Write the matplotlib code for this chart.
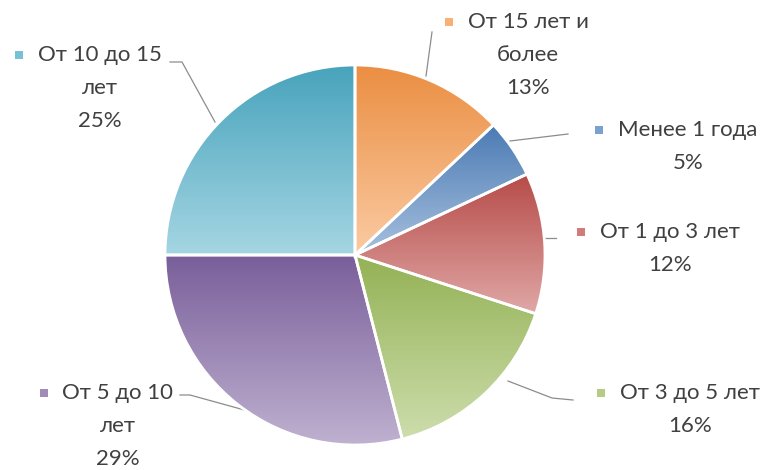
import matplotlib
matplotlib.use("Agg")
import matplotlib.pyplot as plt
import numpy as np
from matplotlib.colors import LinearSegmentedColormap, to_rgb
from matplotlib.transforms import Affine2D

labels = ["От 15 лет и\nболее", "Менее 1 года", "От 1 до 3 лет",
          "От 3 до 5 лет", "От 5 до 10\nлет", "От 10 до 15\nлет"]
values = [13, 5, 12, 16, 29, 25]
colors = ["#F79646", "#4F81BD", "#C0504D", "#9BBB59", "#8064A2", "#4BACC6"]

# label anchor (text center x, top line y) and leader line, in pixel coords
lab_pos = [(528, 22), (688, 130), (670, 232), (690, 393), (118, 393), (100, 55)]
leaders = [[(432, 32), (426, 76)],
           [(568, 134), (510, 141)],
           [(556, 238), (545, 238)],
           [(573, 400), (552, 398), (508, 381)],
           [(180, 395), (190, 395), (248, 411)],
           [(170, 62), (182, 62), (215, 122)]]

W, H = 766, 470
fig = plt.figure(figsize=(W / 100, H / 100), dpi=100)
ax = fig.add_axes([0, 0, 1, 1])
ax.set_xlim(0, W)
ax.set_ylim(H, 0)
ax.axis("off")

cx, cy, r = 355, 255, 190
wedges, _ = plt.pie(values, startangle=90, counterclock=False,
                    center=(cx, -cy), radius=r, colors=colors,
                    wedgeprops=dict(edgecolor="white", linewidth=2))
flip = Affine2D().scale(1, -1)
for w, c in zip(wedges, colors):
    w.set_transform(flip + ax.transData)
    base = np.array(to_rgb(c))
    light = base + (1 - base) * 0.5
    cmap = LinearSegmentedColormap.from_list("g", [base * 0.95, light])
    verts = flip.transform(w.get_patch_transform().transform(w.get_path().vertices))
    x0, y0 = verts.min(axis=0)
    x1, y1 = verts.max(axis=0)
    grad = np.linspace(0, 1, 100).reshape(-1, 1)
    im = ax.imshow(grad, cmap=cmap, extent=(x0, x1, y1, y0),
                   aspect="auto", zorder=1, interpolation="bilinear")
    im.set_clip_path(w)
    w.set_facecolor("none")
    w.set_zorder(2)
ax.set_xlim(0, W)
ax.set_ylim(H, 0)
ax.set_aspect("auto")

font = dict(family=["Lato", "DejaVu Sans"], fontsize=16, color="#404040")
fig.canvas.draw()
rend = fig.canvas.get_renderer()
for lab, v, (x, y), c, ln in zip(labels, values, lab_pos, colors, leaders):
    lines = lab.split("\n") + ["%d%%" % v]
    texts = []
    for i, t in enumerate(lines):
        texts.append(ax.text(x, y + i * 33, t, ha="center", va="center", **font))
    # small square key before the first line
    bb = texts[0].get_window_extent(rend)
    half_w = bb.width / 2
    base = np.array(to_rgb(c))
    ax.scatter([x - half_w - 19], [y], marker="s", s=40,
               color=base + (1 - base) * 0.25, zorder=3, linewidths=0)
    xs, ys = zip(*ln)
    ax.plot(xs, ys, color="#8c8c8c", lw=0.9, zorder=0)

fig.savefig("out.png", dpi=100)
